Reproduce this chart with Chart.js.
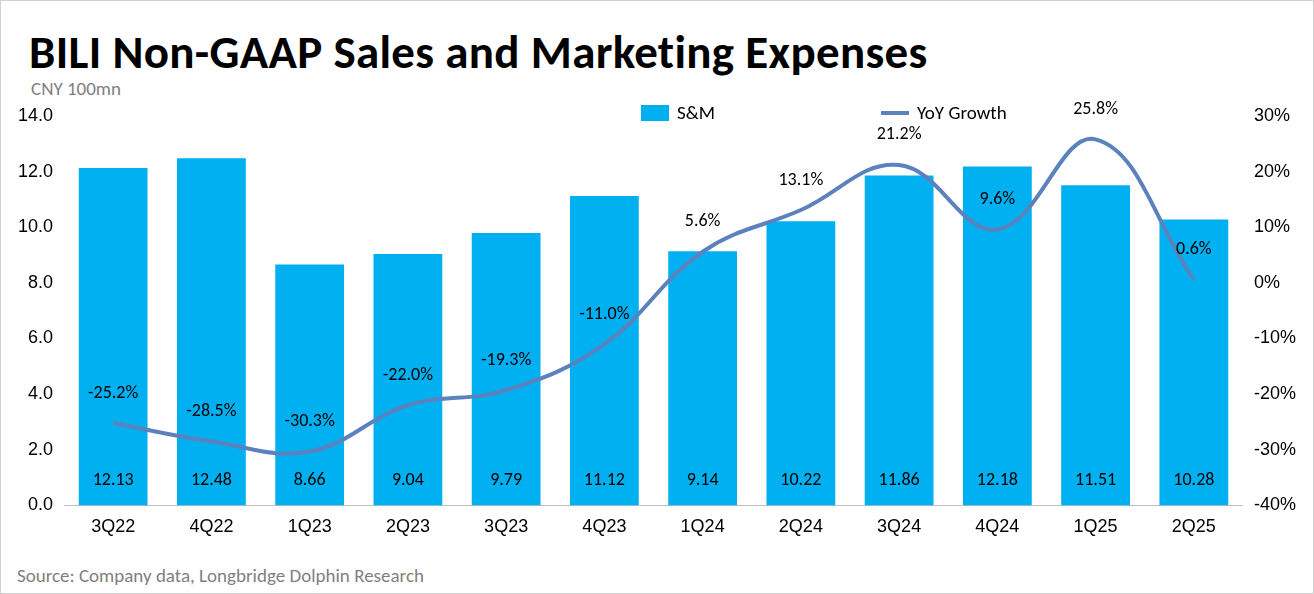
<!DOCTYPE html>
<html>
<head>
<meta charset="utf-8">
<script src="https://cdn.jsdelivr.net/npm/chart.js@4"></script>
<style>
  body { margin: 0; background: #fff; font-family: Calibri, Carlito, "Open Sans", "Noto Sans", sans-serif; }
  #wrap { position: relative; width: 1312px; height: 592px; border: 1px solid #d0d0d0; }
  #title { position: absolute; left: 28px; top: 22px; font-size: 47px; font-weight: bold; color: #000; letter-spacing: 0.3px; }
  #unit { position: absolute; left: 30px; top: 76px; font-size: 19px; color: #7f7f7f; }
  #source { position: absolute; left: 16px; top: 563px; font-size: 19px; color: #7f7f7f; }
  #box { position: absolute; left: 0; top: 100px; width: 1312px; height: 440px; }
  .lg { position: absolute; top: 100px; font-size: 19px; color: #000; display: flex; align-items: center; }
  .sw { display: inline-block; width: 28px; margin-right: 8px; }
</style>
</head>
<body>
<div id="wrap">
  <div id="title">BILI Non-GAAP Sales and Marketing Expenses</div>
  <div id="unit">CNY 100mn</div>
  <div id="box"><canvas id="chart"></canvas></div>
  <div class="lg" style="left:640px"><span class="sw" style="height:16px;background:#00B0F0"></span>S&amp;M</div>
  <div class="lg" style="left:880px"><span class="sw" style="height:4px;background:#5B82BD"></span>YoY Growth</div>
  <div id="source">Source: Company data, Longbridge Dolphin Research</div>
</div>
<script>
const quarters = ["3Q22", "4Q22", "1Q23", "2Q23", "3Q23", "4Q23", "1Q24", "2Q24", "3Q24", "4Q24", "1Q25", "2Q25"];
const salesMarketing = [12.13, 12.48, 8.66, 9.04, 9.79, 11.12, 9.14, 10.22, 11.86, 12.18, 11.51, 10.28];
const yoyGrowth = [-25.2, -28.5, -30.3, -22.0, -19.3, -11.0, 5.6, 13.1, 21.2, 9.6, 25.8, 0.6];

// value labels: bar values near the bottom, growth above the points
const labelPlugin = {
  id: "labels",
  afterDatasetsDraw(chart) {
    const ctx = chart.ctx;
    const y0 = chart.scales.y.getPixelForValue(0);
    ctx.save();
    ctx.font = "18px Calibri, Carlito, 'Open Sans', sans-serif";
    ctx.fillStyle = "#000";
    ctx.textAlign = "center";
    ctx.textBaseline = "middle";
    chart.getDatasetMeta(0).data.forEach((bar, i) => {
      ctx.fillText(salesMarketing[i].toFixed(2), bar.x, y0 - 25);
    });
    chart.getDatasetMeta(1).data.forEach((pt, i) => {
      ctx.fillText(yoyGrowth[i].toFixed(1) + "%", pt.x, pt.y - 30);
    });
    ctx.restore();
  },
};

new Chart(document.getElementById("chart"), {
  type: "bar",
  data: {
    labels: quarters,
    datasets: [
      {
        label: "S&M",
        data: salesMarketing,
        backgroundColor: "#00B0F0",
        categoryPercentage: 1,
        barPercentage: 0.7,
        yAxisID: "y",
        order: 2,
      },
      {
        type: "line",
        label: "YoY Growth",
        data: yoyGrowth,
        borderColor: "#5B82BD",
        borderWidth: 4,
        pointRadius: 0,
        tension: 0.4,
        yAxisID: "y1",
        order: 1,
      },
    ],
  },
  options: {
    responsive: true,
    maintainAspectRatio: false,
    animation: { duration: 0 },
    layout: { padding: { left: 14, right: 14, top: 15, bottom: 0 } },
    plugins: {
      legend: { display: false },
      tooltip: { enabled: false },
    },
    scales: {
      x: {
        grid: { display: false },
        border: { color: "#bfbfbf" },
        ticks: { color: "#000", font: { size: 18 } },
      },
      y: {
        min: 0,
        max: 14,
        position: "left",
        grid: { display: false },
        border: { display: false },
        ticks: { stepSize: 2, color: "#000", font: { size: 18 }, callback: (v) => v.toFixed(1) },
      },
      y1: {
        min: -40,
        max: 30,
        position: "right",
        grid: { display: false },
        border: { display: false },
        ticks: { stepSize: 10, color: "#000", font: { size: 18 }, callback: (v) => v + "%" },
      },
    },
  },
  plugins: [labelPlugin],
});
</script>
</body>
</html>
